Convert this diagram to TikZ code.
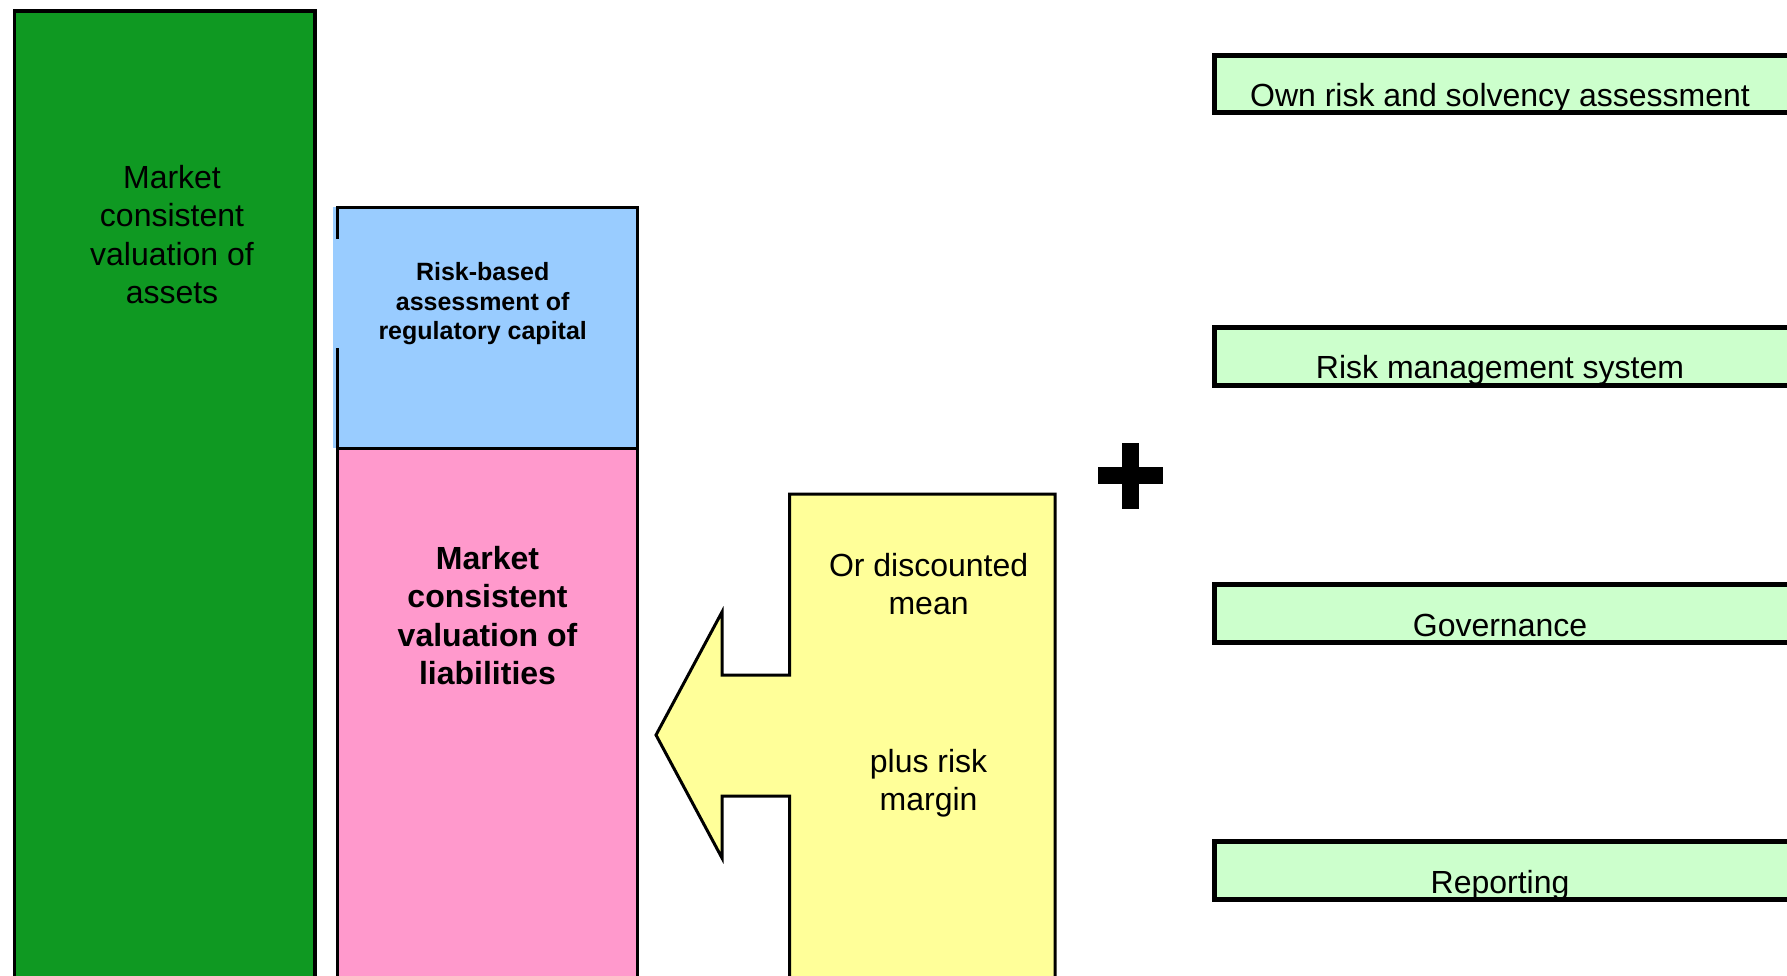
\documentclass[tikz,border=0pt]{standalone}
\usepackage{fontspec}
\setmainfont{Liberation Sans}
\definecolor{assetgreen}{RGB}{15,153,34}
\definecolor{capblue}{RGB}{153,204,255}
\definecolor{liabpink}{RGB}{255,153,204}
\definecolor{arrowyellow}{RGB}{255,255,153}
\definecolor{barfill}{RGB}{204,255,204}
\tikzset{
  colbox/.style={draw=black, line width=3.5pt},
  sidebar/.style={draw=black, line width=5pt, fill=barfill},
  bigtxt/.style={font=\fontsize{32}{38.3}\selectfont, align=center, inner sep=0pt},
  bigbold/.style={font=\fontsize{32}{38.3}\selectfont\bfseries, align=center, inner sep=0pt},
  smallbold/.style={font=\fontsize{25}{29.5}\selectfont\bfseries, align=center, inner sep=0pt},
  bartxt/.style={font=\fontsize{32}{38.3}\selectfont, inner sep=0pt, anchor=base},
}
\begin{document}
\begin{tikzpicture}[x=1pt,y=-1pt]
\useasboundingbox (0,0) rectangle (1787,976);
\fill[white] (0,0) rectangle (1787,976);

% assets column
\draw[colbox, fill=assetgreen] (14.4,11) rectangle (315.2,990);
\node[bigtxt] (assets) at (172,234.7) {Market\\consistent\\valuation of\\assets};

% capital box (with the small gap in its left border)
\fill[capblue] (333,207.5) rectangle (637.5,448.3);
\draw[line width=3.5pt, line cap=rect] (337.4,237) -- (337.4,207.5) -- (637.5,207.5) -- (637.5,448.3);
\draw[line width=3.5pt] (337.4,348) -- (337.4,448.3);
\node[smallbold] (capital) at (482.7,304) {Risk-based\\assessment of\\regulatory capital};

% liabilities box
\draw[colbox, fill=liabpink] (337.4,448.3) rectangle (637.5,990);
\node[bigbold] (liab) at (487.5,615.5) {Market\\consistent\\valuation of\\liabilities};

% yellow arrow
\draw[line width=3pt, fill=arrowyellow, line join=miter]
  (789.5,990) -- (789.5,796) -- (722,796) -- (722,858) -- (656,735)
  -- (722,612) -- (722,675) -- (789.5,675) -- (789.5,494) -- (1055,494)
  -- (1055,990) -- cycle;
\node[bigtxt] (mean) at (928.6,584.2) {Or discounted\\mean};
\node[bigtxt] (margin) at (928.6,783) {plus risk\\margin};

% plus sign
\fill[black] (1098.3,467) rectangle (1163,484);
\fill[black] (1122.3,443.3) rectangle (1139,508.7);

% side bars
\draw[sidebar] (1214.2,55.8) rectangle (1789,112.5);
\node[bartxt] (orsa) at (1500,106.7) {Own risk and solvency assessment};
\draw[sidebar] (1214.2,327.5) rectangle (1789,385.2);
\node[bartxt] (rms) at (1500,378.3) {Risk management system};
\draw[sidebar] (1214.2,584.8) rectangle (1789,642.5);
\node[bartxt] (gov) at (1500,636) {Governance};
\draw[sidebar] (1214.2,841.8) rectangle (1789,899.8);
\node[bartxt] (rep) at (1500,893.3) {Reporting};
\end{tikzpicture}
\end{document}
